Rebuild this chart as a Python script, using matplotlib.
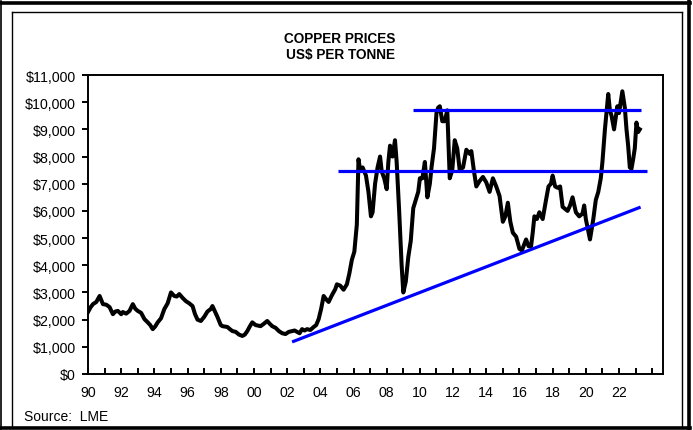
import matplotlib
matplotlib.use("Agg")
import matplotlib.pyplot as plt
from matplotlib.lines import Line2D
import numpy as np

plt.rcParams['font.family'] = ['Liberation Sans', 'DejaVu Sans']

# ---- data ----
years = [
    1990.0, 1990.15, 1990.3, 1990.5, 1990.7, 1990.9, 1991.1, 1991.3, 1991.5, 1991.65,
    1991.8, 1992.0, 1992.1, 1992.3, 1992.5, 1992.7, 1992.85, 1993.0, 1993.2, 1993.4,
    1993.6, 1993.75, 1993.9, 1994.05, 1994.2, 1994.4, 1994.6, 1994.8, 1995.0, 1995.2,
    1995.35, 1995.5, 1995.7, 1995.9, 1996.1, 1996.3, 1996.45, 1996.6, 1996.8, 1997.0,
    1997.2, 1997.4, 1997.5, 1997.65, 1997.8, 1998.0, 1998.1, 1998.4, 1998.55, 1998.7,
    1998.9, 1999.1, 1999.3, 1999.45, 1999.6, 1999.75, 1999.9, 2000.1, 2000.4, 2000.6,
    2000.8, 2000.95, 2001.1, 2001.3, 2001.5, 2001.7, 2001.9, 2002.1, 2002.3, 2002.45,
    2002.6, 2002.75, 2002.9, 2003.05, 2003.2, 2003.4, 2003.6, 2003.75, 2003.9, 2004.05,
    2004.2, 2004.35, 2004.5, 2004.7, 2004.9, 2005.0, 2005.2, 2005.4, 2005.6, 2005.75,
    2005.9, 2006.05, 2006.2, 2006.3, 2006.4, 2006.55, 2006.75, 2006.9, 2007.05, 2007.15,
    2007.3, 2007.45, 2007.6, 2007.7, 2007.85, 2008.0, 2008.1, 2008.2, 2008.35, 2008.5,
    2008.6, 2008.75, 2008.9, 2009.0, 2009.15, 2009.3, 2009.45, 2009.6, 2009.75, 2009.9,
    2010.0, 2010.15, 2010.3, 2010.45, 2010.6, 2010.7, 2010.85, 2011.0, 2011.1, 2011.2,
    2011.35, 2011.5, 2011.65, 2011.8, 2011.95, 2012.1, 2012.25, 2012.4, 2012.6, 2012.8,
    2013.0, 2013.1, 2013.25, 2013.4, 2013.6, 2013.8, 2014.0, 2014.2, 2014.4, 2014.6,
    2014.8, 2015.0, 2015.15, 2015.3, 2015.45, 2015.6, 2015.8, 2016.0, 2016.15, 2016.4,
    2016.55, 2016.7, 2016.8, 2016.9, 2017.05, 2017.2, 2017.4, 2017.6, 2017.75, 2017.9,
    2018.0, 2018.15, 2018.3, 2018.45, 2018.6, 2018.8, 2018.9, 2019.05, 2019.2, 2019.4,
    2019.6, 2019.8, 2019.9, 2020.0, 2020.25, 2020.45, 2020.6, 2020.75, 2020.9, 2021.0,
    2021.15, 2021.35, 2021.45, 2021.55, 2021.7, 2021.9, 2022.0, 2022.2, 2022.35, 2022.45,
    2022.55, 2022.65, 2022.75, 2022.85, 2022.95, 2023.05, 2023.15, 2023.25,
]
prices = [
    2280, 2450, 2570, 2650, 2870, 2570, 2550, 2460, 2200, 2300,
    2320, 2200, 2280, 2220, 2320, 2570, 2400, 2320, 2250, 2020,
    1900, 1800, 1650, 1750, 1900, 2050, 2390, 2600, 3000, 2870,
    2850, 2940, 2800, 2680, 2600, 2500, 2200, 2000, 1950, 2100,
    2300, 2390, 2500, 2300, 2100, 1800, 1760, 1730, 1650, 1580,
    1550, 1450, 1400, 1450, 1580, 1750, 1900, 1800, 1760, 1850,
    1950, 1850, 1760, 1700, 1580, 1500, 1470, 1550, 1580, 1600,
    1550, 1500, 1650, 1600, 1650, 1620, 1730, 1800, 2020, 2400,
    2870, 2750, 2650, 2900, 3120, 3300, 3250, 3100, 3300, 3700,
    4200, 4500, 5500, 7900, 7500, 7600, 7300, 6700, 5800, 5950,
    7000, 7600, 8000, 7450, 7200, 6800, 7800, 8400, 8000, 8600,
    7800, 6000, 4000, 3000, 3400, 4300, 4900, 6100, 6400, 6700,
    7200, 7200, 7800, 6500, 7000, 7600, 8300, 9600, 9800, 9850,
    9300, 9300, 9700, 7200, 7500, 8600, 8300, 7500, 7600, 8250,
    8100, 8200, 7500, 6900, 7100, 7250, 7050, 6700, 7200, 6900,
    6550, 5600, 5800, 6300, 5600, 5200, 5050, 4600, 4550, 4950,
    4700, 4700, 5200, 5800, 5700, 5950, 5700, 6400, 6900, 7000,
    7300, 6900, 6850, 6900, 6150, 6050, 6000, 6200, 6500, 5950,
    5800, 5900, 6200, 5700, 4950, 5700, 6400, 6700, 7200, 7800,
    9000, 10300, 9700, 9500, 9000, 9850, 9600, 10400, 9800, 9000,
    8400, 7600, 7550, 7900, 8300, 9250, 8900, 9000,
]

resist_levels = [9700, 7450]
resist_start = [2009.6, 2005.05]
resist_end = [2023.3, 2023.7]
support_years = [2002.3, 2023.3]
support_prices = [1180, 6140]

y_ticks = list(range(0, 12000, 1000))
x_ticks = list(range(1990, 2025))
x_label_years = list(range(1990, 2023, 2))

title_lines = ["COPPER PRICES", "US$ PER TONNE"]
source_text = "Source:  LME"

# ---- figure ----
W, H = 693, 431
fig = plt.figure(figsize=(W / 100, H / 100), dpi=100)
fig.patch.set_facecolor('white')

def fx(x):
    return x / W

def fy(y):
    return 1 - y / H

left, right, top, bottom = 88, 663, 76, 375
ax = fig.add_axes([fx(left), fy(bottom), fx(right) - fx(left), fy(top) - fy(bottom)])

ax.plot(years, prices, color='black', lw=2.9, solid_joinstyle='round', zorder=3)
for lvl, s, e in zip(resist_levels, resist_start, resist_end):
    ax.plot([s, e], [lvl, lvl], color='#0000ff', lw=2.3, zorder=4, solid_capstyle='butt')
ax.plot(support_years, support_prices, color='#0000ff', lw=2.3, zorder=4, solid_capstyle='butt')

ax.set_xlim(1990, 2024.65)
ax.set_ylim(0, 11000)

ax.set_yticks(y_ticks)
ax.set_yticklabels([f"${v:,}" for v in y_ticks])
ax.set_xticks(x_ticks)
ax.set_xticklabels([f"{y % 100:02d}" if y in x_label_years else "" for y in x_ticks])

for sp in ax.spines.values():
    sp.set_linewidth(1.4)
    sp.set_color('black')

ax.tick_params(axis='y', direction='out', length=4, width=1.4, labelsize=10.2, pad=5)
ax.tick_params(axis='x', direction='in', length=4, width=1.4, labelsize=10.2, pad=8)

# titles and source
fig.text(fx(340), fy(39), title_lines[0], ha='center', va='center', fontsize=9.8, fontweight='bold')
fig.text(fx(340), fy(55), title_lines[1], ha='center', va='center', fontsize=9.8, fontweight='bold')
fig.text(fx(24), fy(417), source_text, ha='left', va='center', fontsize=10)

# frames
def hline(y, x0, x1, lw):
    fig.add_artist(Line2D([fx(x0), fx(x1)], [fy(y), fy(y)], transform=fig.transFigure, color='black', lw=lw))

def vline(x, y0, y1, lw):
    fig.add_artist(Line2D([fx(x), fx(x)], [fy(y0), fy(y1)], transform=fig.transFigure, color='black', lw=lw))

# outer thick frame
hline(3.5, 0, 690, 2.6)
hline(428.5, 0, 690, 2.6)
vline(688.5, 2, 430, 2.6)
vline(0.8, 2, 430, 1.2)
# inner thin frame
hline(13, 12, 682, 1.0)
vline(12, 13, 428, 1.0)
vline(682, 13, 428, 1.0)

fig.savefig("out.png", dpi=100, facecolor='white')
